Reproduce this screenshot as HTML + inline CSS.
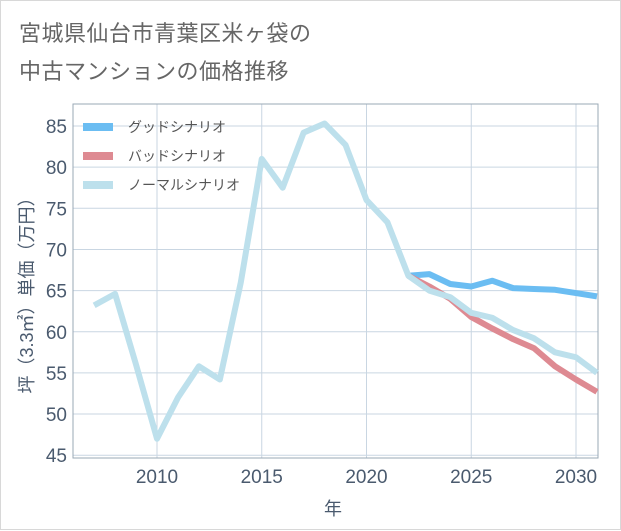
<!DOCTYPE html>
<html><head><meta charset="utf-8">
<style>
body{margin:0;background:#fff;}
#wrap{position:relative;width:619px;height:528px;border:1px solid #d8d8d8;background:#fff;font-family:"Liberation Sans","Noto Sans CJK JP",sans-serif;}
#title{position:absolute;left:18px;top:14px;font-size:22px;line-height:38px;color:#666;letter-spacing:0.5px;}
svg{position:absolute;left:0;top:0;}
</style></head><body>
<div id="wrap">
<div id="title">宮城県仙台市青葉区米ヶ袋の<br>中古マンションの価格推移</div>
<svg id="chart" width="621" height="530"></svg>
</div>
<script>
const years=[2007,2008,2009,2010,2011,2012,2013,2014,2015,2016,2017,2018,2019,2020,2021,2022,2023,2024,2025,2026,2027,2028,2029,2030,2031];
const normalVals=[63.2,64.6,56,47,52,55.8,54.2,66,81,77.5,84.2,85.3,82.7,76,73.3,66.8,65,64.2,62.3,61.7,60.2,59.2,57.5,56.9,55];
const futureYears=[2022,2023,2024,2025,2026,2027,2028,2029,2030,2031];
const goodVals=[66.8,67,65.8,65.5,66.2,65.3,65.2,65.1,64.7,64.3];
const badVals=[66.8,65.5,64,61.8,60.4,59.1,58,55.8,54.2,52.7];
const yTicks=[45,50,55,60,65,70,75,80,85];
const xTicks=[2010,2015,2020,2025,2030];
const legendLabels=["グッドシナリオ","バッドシナリオ","ノーマルシナリオ"];

const L=72,R=597,T=103,B=457;
const xs=y=>156+(y-2010)*20.95;
const ys=v=>125+(85-v)*8.23;
const NS="http://www.w3.org/2000/svg";
const svg=document.getElementById('chart');
function mk(t,a){const e=document.createElementNS(NS,t);for(const k in a)e.setAttribute(k,a[k]);svg.appendChild(e);return e;}

for(const t of yTicks){
  const g=mk('line',{x1:L,x2:R,y1:ys(t),y2:ys(t),stroke:'#c9d6e2','stroke-width':1});
  
  
  const tx=mk('text',{x:L-6,y:ys(t)+7,'text-anchor':'end','font-size':19,fill:'#4a5a6e'});
  tx.textContent=t;
  
  
}
for(let y=2006;y<=2031;y++){
  if(y%5===0){
    const g=mk('line',{x1:xs(y),x2:xs(y),y1:T,y2:B,stroke:'#c9d6e2','stroke-width':1});
    
    
  }
}
for(const t of xTicks){
  const tx=mk('text',{x:xs(t),y:B+25,'text-anchor':'middle','font-size':19,fill:'#4a5a6e'});
  tx.textContent=t;
  
  
}
const fr=mk('rect',{x:L,y:T,width:R-L,height:B-T,fill:'none',stroke:'#9aa8b6','stroke-width':1});



function line(xv,yv,color,name){
  const p=mk('polyline',{points:xv.map((x,i)=>xs(x)+','+ys(yv[i])).join(' '),fill:'none',stroke:color,'stroke-width':6,'stroke-linejoin':'round'});
  
  
}
line(futureYears,goodVals,'#6bbdf2','good-scenario-line');
line(futureYears,badVals,'#de8a92','bad-scenario-line');
line(years,normalVals,'#bde0ec','normal-scenario-line');

const cols=['#6bbdf2','#de8a92','#bde0ec'];
legendLabels.forEach((lab,i)=>{
  const y=126+i*29;
  const sw=mk('rect',{x:82,y:y-4,width:30,height:8,fill:cols[i]});
  
  
  const tx=mk('text',{x:127,y:y+5,'font-size':14,fill:'#555'});
  tx.textContent=lab;
  
  
});

const yt=mk('text',{x:0,y:0,'font-size':18,fill:'#4a5a6e','text-anchor':'middle',transform:'translate(32,290) rotate(-90)'});
yt.textContent='坪（3.3㎡）単価（万円）';


const xt=mk('text',{x:332,y:514,'font-size':18,fill:'#4a5a6e','text-anchor':'middle'});
xt.textContent='年';


</script>
</body></html>
